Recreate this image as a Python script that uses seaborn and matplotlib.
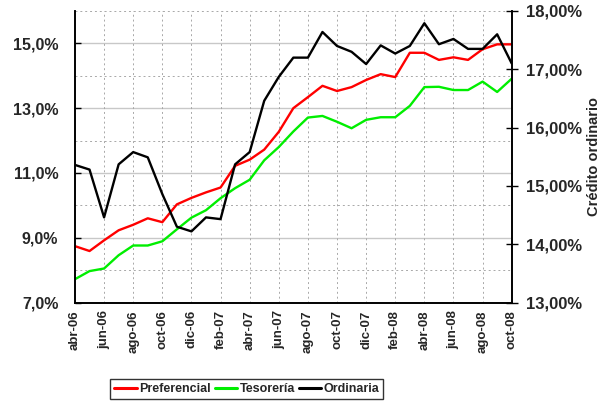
import numpy as np
import pandas as pd
import matplotlib
matplotlib.use("Agg")
import matplotlib.pyplot as plt
from matplotlib.ticker import FixedLocator, FuncFormatter
import seaborn as sns

# Monthly series, abr-06 .. oct-08
months = ["abr-06", "may-06", "jun-06", "jul-06", "ago-06", "sep-06", "oct-06",
          "nov-06", "dic-06", "ene-07", "feb-07", "mar-07", "abr-07", "may-07",
          "jun-07", "jul-07", "ago-07", "sep-07", "oct-07", "nov-07", "dic-07",
          "ene-08", "feb-08", "mar-08", "abr-08", "may-08", "jun-08", "jul-08",
          "ago-08", "sep-08", "oct-08"]

preferencial = [8.74, 8.59, 8.92, 9.23, 9.40, 9.60, 9.48, 10.03, 10.23, 10.40,
                10.55, 11.22, 11.41, 11.72, 12.27, 13.00, 13.34, 13.69, 13.53,
                13.65, 13.87, 14.05, 13.96, 14.71, 14.71, 14.49, 14.57, 14.49,
                14.82, 14.97, 14.97]

tesoreria = [7.72, 7.97, 8.05, 8.46, 8.76, 8.76, 8.89, 9.26, 9.62, 9.85,
             10.22, 10.53, 10.79, 11.39, 11.80, 12.28, 12.71, 12.76, 12.58,
             12.38, 12.64, 12.72, 12.72, 13.07, 13.65, 13.66, 13.56, 13.56,
             13.82, 13.50, 13.91]

ordinaria = [15.36, 15.28, 14.46, 15.37, 15.58, 15.49, 14.86, 14.30, 14.22,
             14.46, 14.43, 15.37, 15.58, 16.46, 16.87, 17.20, 17.20, 17.64,
             17.40, 17.30, 17.09, 17.41, 17.27, 17.40, 17.79, 17.43, 17.52,
             17.35, 17.35, 17.60, 17.10]

left_ticks = [7, 9, 11, 13, 15]
right_ticks = [13, 14, 15, 16, 17, 18]

sns.set_theme(style="white")
plt.rcParams["font.family"] = ["Liberation Sans", "DejaVu Sans"]
plt.rcParams["font.weight"] = "bold"

df = pd.DataFrame({"x": np.arange(len(months)),
                   "Preferencial": preferencial,
                   "Tesorería": tesoreria,
                   "Ordinaria": ordinaria})

fig = plt.figure(figsize=(6.11, 4.04), dpi=100)
ax = fig.add_axes([0.1227, 0.2512, 0.7148, 0.7216])
ax2 = ax.twinx()

sns.lineplot(data=df, x="x", y="Preferencial", ax=ax, color="#FF0000",
             linewidth=1.7, label="Preferencial", legend=False)
sns.lineplot(data=df, x="x", y="Tesorería", ax=ax, color="#00EE00",
             linewidth=1.7, label="Tesorería", legend=False)
sns.lineplot(data=df, x="x", y="Ordinaria", ax=ax2, color="#000000",
             linewidth=1.7, label="Ordinaria", legend=False)

ax.set_xlim(0, len(months) - 1)
ax.set_ylim(7, 16)
ax2.set_ylim(13, 18)

# grid: solid at major, dashed at intermediate levels, dashed verticals
for v in left_ticks:
    ax.axhline(v, color="#C8C8C8", linewidth=1.0, zorder=0)
for v in [8, 10, 12, 14, 16]:
    ax.axhline(v, color="#A8A8A8", linewidth=0.7, linestyle=(0, (2, 3)), zorder=0)
xt = list(range(0, len(months), 2))
for v in xt[1:]:
    ax.axvline(v, color="#A8A8A8", linewidth=0.7, linestyle=(0, (2, 3)), zorder=0)

ax.yaxis.set_major_locator(FixedLocator(left_ticks))
ax.yaxis.set_major_formatter(FuncFormatter(lambda v, p: f"{v:.1f}%".replace(".", ",")))
ax2.yaxis.set_major_locator(FixedLocator(right_ticks))
ax2.yaxis.set_major_formatter(FuncFormatter(lambda v, p: f"{v:.2f}%".replace(".", ",")))

ax.set_xticks(xt)
ax.set_xticklabels([months[i] for i in xt], rotation=90, fontsize=9.5, fontweight="bold")
ax.tick_params(axis="x", direction="inout", length=5, width=1, color="black", pad=3)
ax.tick_params(axis="y", direction="in", length=4, width=1, color="black",
               labelsize=11.5, pad=12)
ax2.tick_params(axis="y", direction="inout", length=8, width=1, color="black",
                labelsize=12, pad=6)
for lbl in ax.get_yticklabels() + ax2.get_yticklabels():
    lbl.set_fontweight("bold")

ax.set_xlabel("")
ax.set_ylabel("")
ax2.set_ylabel("Crédito ordinario", fontsize=10.5, fontweight="bold", labelpad=4)

for a in (ax, ax2):
    a.spines["top"].set_visible(False)
    for side in ("left", "bottom", "right"):
        a.spines[side].set_color("black")
        a.spines[side].set_linewidth(1.2)

h1, l1 = ax.get_legend_handles_labels()
h2, l2 = ax2.get_legend_handles_labels()
leg = fig.legend(h1 + h2, l1 + l2, loc="center", bbox_to_anchor=(0.404, 0.037),
                 ncol=3, frameon=True, fancybox=False,
                 handlelength=1.8, handletextpad=0.2, columnspacing=0.3,
                 borderpad=0.3, prop={"weight": "bold", "size": 9})
leg.get_frame().set_edgecolor("black")
leg.get_frame().set_linewidth(1.0)
for line in leg.get_lines():
    line.set_linewidth(2.2)

fig.savefig("out.png", dpi=100)
